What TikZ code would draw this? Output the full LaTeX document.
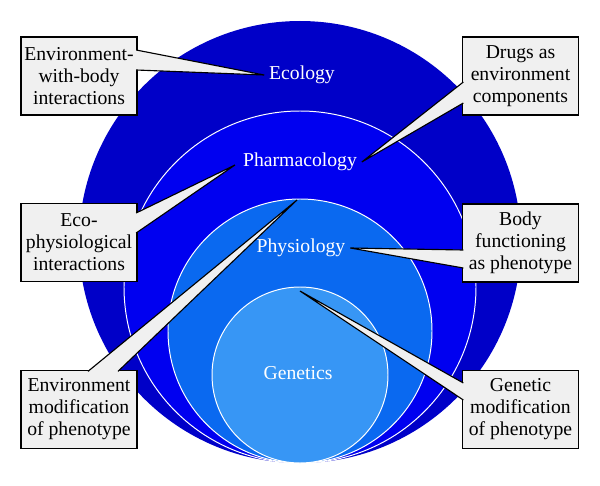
\documentclass[tikz,border=0pt]{standalone}
\usepackage{fontspec}
\setmainfont{Liberation Serif}
\usetikzlibrary{calc}

\definecolor{ecoblue}{RGB}{0,0,200}
\definecolor{pharmblue}{RGB}{0,0,240}
\definecolor{physioblue}{RGB}{10,105,240}
\definecolor{geneblue}{RGB}{55,150,245}
\definecolor{boxgray}{RGB}{240,240,240}

\tikzset{
  ring/.style={draw=white, line width=0.7pt},
  circlabel/.style={text=white, font=\fontsize{14}{15.6}\selectfont},
  notebox/.style={draw=black, line width=0.9pt, fill=boxgray, minimum width=2.9cm,
    minimum height=1.95cm, align=center, inner sep=1pt, font=\fontsize{14}{15.6}\selectfont},
  wedgefill/.style={fill=boxgray},
  wedgeline/.style={draw=black, line width=0.8pt}
}

\begin{document}
\begin{tikzpicture}[x=0.025cm, y=-0.025cm]
    \useasboundingbox (0,0) rectangle (600,486);

    \fill[ecoblue] (300,242) circle (221);
    \filldraw[fill=pharmblue, ring] (300,287) circle (176);
    \filldraw[fill=physioblue, ring] (300,331) circle (132);
    \filldraw[fill=geneblue, ring] (300,375) circle (88);

    \node[circlabel] (eco) at (302,75) {Ecology};
    \node[circlabel] (pharm) at (300,162) {Pharmacology};
    \node[circlabel] (physio) at (301,248) {Physiology};
    \node[circlabel] (gene) at (298,373) {Genetics};

    \node[notebox] (envbody) at (79,76) {Environment-\\with-body\\interactions};
    \node[notebox] (drugs) at (520.5,76) {Drugs as\\environment\\components};
    \node[notebox] (ecophys) at (79,242.5) {Eco-\\physiological\\interactions};
    \node[notebox] (bodyfun) at (520.5,243) {Body\\functioning\\as phenotype};
    \node[notebox] (envmod) at (79,409.5) {Environment\\modification\\of phenotype};
    \node[notebox] (genemod) at (520.5,409.5) {Genetic\\modification\\of phenotype};

    \coordinate (ecophystip) at (235,165);
    \coordinate (envtip) at (297,200);
    \coordinate (genetip) at (300,291);

    \fill[wedgefill] ($(envbody.east)+(-1.5,-26)$) coordinate (a1) -- (eco.west) -- ($(envbody.east)+(-1.5,-6)$) coordinate (b1) -- cycle;
    \draw[wedgeline] (a1) -- (eco.west) -- (b1);

    \fill[wedgefill] ($(drugs.west)+(1.5,6)$) coordinate (a2) -- (pharm.east) -- ($(drugs.west)+(1.5,27)$) coordinate (b2) -- cycle;
    \draw[wedgeline] (a2) -- (pharm.east) -- (b2);

    \fill[wedgefill] ($(ecophys.east)+(-1.5,-29.5)$) coordinate (a3) -- (ecophystip) -- ($(ecophys.east)+(-1.5,-9.5)$) coordinate (b3) -- cycle;
    \draw[wedgeline] (a3) -- (ecophystip) -- (b3);

    \fill[wedgefill] ($(bodyfun.west)+(1.5,7)$) coordinate (a4) -- (physio.east) -- ($(bodyfun.west)+(1.5,25)$) coordinate (b4) -- cycle;
    \draw[wedgeline] (a4) -- (physio.east) -- (b4);

    \fill[wedgefill] ($(envmod.north)+(9,1.5)$) coordinate (a5) -- (envtip) -- ($(envmod.north)+(39,1.5)$) coordinate (b5) -- cycle;
    \draw[wedgeline] (a5) -- (envtip) -- (b5);

    \fill[wedgefill] ($(genemod.west)+(1.5,-26.5)$) coordinate (a6) -- (genetip) -- ($(genemod.west)+(1.5,-9.5)$) coordinate (b6) -- cycle;
    \draw[wedgeline] (a6) -- (genetip) -- (b6);
\end{tikzpicture}
\end{document}
